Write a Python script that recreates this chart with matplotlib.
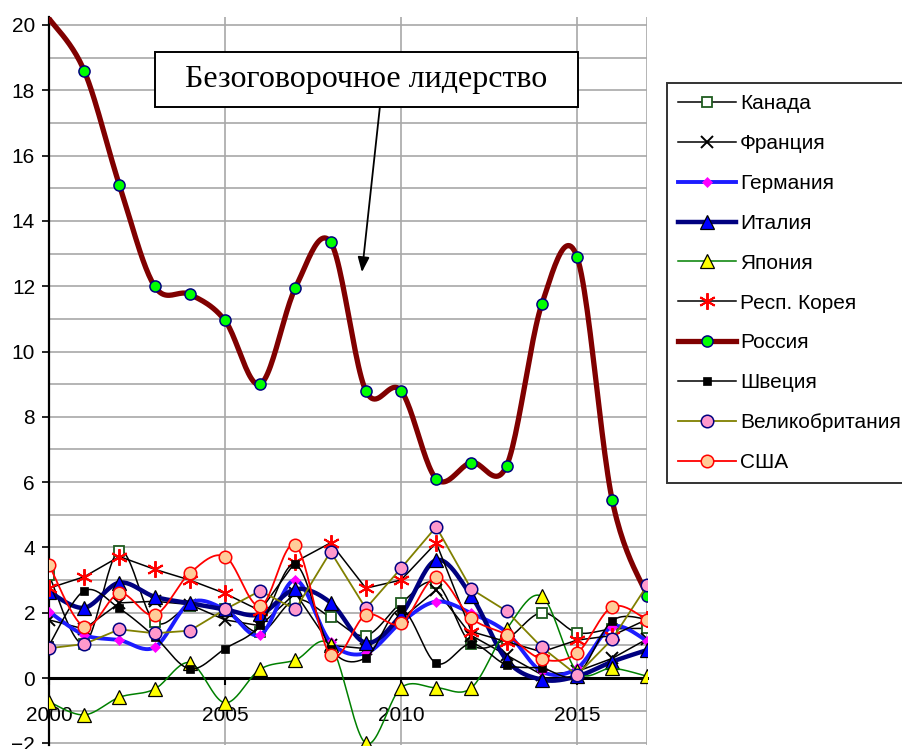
import numpy as np
import matplotlib
matplotlib.use("Agg")
import matplotlib.pyplot as plt
from matplotlib.patches import Rectangle

years = list(range(2000, 2018))

canada  = [3.15, 1.05, 3.90, 1.72, 2.20, 2.10, 1.40, 2.40, 1.86, 1.30, 2.29, 2.90, 1.03, 1.20, 2.00, 1.39, 1.50, 1.52]
france  = [1.78, 1.50, 2.30, 2.35, 2.25, 1.78, 1.60, 2.60, 1.00, 0.90, 1.80, 2.70, 1.30, 0.70, 0.10, 0.20, 0.60, 1.20]
germany = [2.03, 1.32, 1.16, 0.94, 2.30, 2.10, 1.32, 3.00, 1.10, 0.76, 1.70, 2.34, 1.98, 1.40, 0.20, 0.30, 1.57, 1.13]
italy   = [2.64, 2.15, 2.92, 2.49, 2.29, 2.10, 1.95, 2.72, 2.31, 1.08, 1.93, 3.61, 2.51, 0.55, -0.05, 0.05, 0.50, 0.86]
japan   = [-0.73, -1.13, -0.59, -0.34, 0.47, -0.76, 0.27, 0.55, 1.00, -2.00, -0.30, -0.30, -0.30, 1.50, 2.50, 0.20, 0.30, 0.05]
korea   = [2.75, 3.10, 3.72, 3.33, 3.00, 2.59, 2.06, 3.56, 4.14, 2.75, 3.00, 4.14, 1.42, 1.11, 0.80, 1.16, 1.30, 1.80]
russia  = [20.2, 18.6, 15.1, 12.0, 11.75, 10.95, 9.0, 11.95, 13.35, 8.8, 8.8, 6.1, 6.6, 6.5, 11.45, 12.9, 5.45, 2.5]
sweden  = [1.00, 2.67, 2.13, 1.27, 0.28, 0.90, 1.62, 3.48, 0.90, 0.62, 2.10, 0.45, 1.05, 0.40, 0.30, 0.10, 1.75, 1.80]
uk      = [0.91, 1.04, 1.49, 1.37, 1.45, 2.10, 2.67, 2.10, 3.87, 2.13, 3.36, 4.63, 2.72, 2.05, 0.94, 0.09, 1.19, 2.85]
usa     = [3.46, 1.57, 2.59, 1.93, 3.21, 3.72, 2.20, 4.07, 0.70, 1.93, 1.67, 3.08, 1.83, 1.32, 0.58, 0.76, 2.18, 1.78]

labels = ["Канада", "Франция", "Германия", "Италия", "Япония",
          "Респ. Корея", "Россия", "Швеция", "Великобритания", "США"]
annotation_text = "Безоговорочное лидерство"

plt.rcParams['font.family'] = ['Liberation Sans', 'DejaVu Sans']


def smooth(xs, ys, n=24):
    P = np.column_stack([np.asarray(xs, float), np.asarray(ys, float)])
    m = len(P)
    out = []
    t = np.linspace(0, 1, n, endpoint=False)[:, None]
    for i in range(m - 1):
        p0 = P[i - 1] if i > 0 else P[i]
        p1 = P[i]
        p2 = P[i + 1]
        p3 = P[i + 2] if i + 2 < m else P[i + 1]
        c1 = p1 + (p2 - p0) / 6.0
        c2 = p2 - (p3 - p1) / 6.0
        seg = ((1 - t) ** 3) * p1 + 3 * ((1 - t) ** 2) * t * c1 + 3 * (1 - t) * t ** 2 * c2 + t ** 3 * p2
        out.append(seg)
    out.append(P[-1:])
    arr = np.vstack(out)
    return arr[:, 0], arr[:, 1], [i * n for i in range(m)]


W, H = 903, 749
fig = plt.figure(figsize=(W / 100, H / 100), dpi=100)
ypx = 32.65
ylo, yhi = -2.05, 20.25
bottom_px = 678 + (-ylo) * ypx
top_px = 678 - yhi * ypx
ax = fig.add_axes([49 / W, (H - bottom_px) / H, (647.4 - 49) / W, (bottom_px - top_px) / H])
ax.set_xlim(2000, 2017)
ax.set_ylim(ylo, yhi)

grid_c = '#a8a8a8'
for v in range(-2, 21):
    ax.axhline(v, color=grid_c, lw=1.2, zorder=0.5)
for v in [2005, 2010, 2015, 2017]:
    ax.axvline(v, color=grid_c, lw=1.2, zorder=0.5)

ax.spines['top'].set_visible(False)
ax.spines['right'].set_visible(False)
ax.spines['bottom'].set_position(('data', 0))
ax.spines['bottom'].set_linewidth(2.2)
ax.spines['bottom'].set_zorder(1)
ax.spines['left'].set_linewidth(1.6)

ax.set_xticks([2000, 2005, 2010, 2015])
ax.set_xticklabels(['2000', '2005', '2010', '2015'])
ax.set_yticks(range(-2, 21, 2))
ax.tick_params(axis='x', direction='out', length=5, width=1.5, pad=15, labelsize=15)
ax.tick_params(axis='y', direction='out', length=5, width=1.2, pad=5, labelsize=15)

specs = [
    (canada,  dict(color='black', lw=1.1, marker='s', ms=7.5, mfc='white', mec='#1f5c1f', mew=1.3), True),
    (france,  dict(color='black', lw=1.1, marker='x', ms=9, mec='black', mew=1.4), False),
    (germany, dict(color='#1c1cff', lw=2.8, marker='D', ms=5.5, mfc='#ff00ff', mec='#ff00ff', mew=0.5), True),
    (italy,   dict(color='#000080', lw=3.2, marker='^', ms=9.5, mfc='#0000ff', mec='black', mew=0.9), True),
    (japan,   dict(color='#008000', lw=1.1, marker='^', ms=9.5, mfc='#ffff00', mec='black', mew=0.9), True),
    (korea,   dict(color='black', lw=1.1, marker=(6, 2, 0), ms=12, mec='#ff0000', mew=1.4), False),
    (russia,  dict(color='#800000', lw=3.8, marker='o', ms=8, mfc='#00ff00', mec='#000080', mew=1.1), True),
    (sweden,  dict(color='black', lw=1.1, marker='s', ms=5.5, mfc='black', mec='black', mew=0.5), True),
    (uk,      dict(color='#808000', lw=1.3, marker='o', ms=9, mfc='#ff99cc', mec='#000080', mew=1.1), False),
    (usa,     dict(color='#ff0000', lw=1.3, marker='o', ms=9, mfc='#ffcc99', mec='#ff0000', mew=1.1), True),
]

handles = []
for (vals, st, sm), lab in zip(specs, labels):
    if sm:
        X, Y, idx = smooth(years, vals)
    else:
        X, Y, idx = np.array(years, float), np.array(vals, float), list(range(len(vals)))
    if lab == "Россия":
        idx = idx[1:]
    h, = ax.plot(X, Y, markevery=idx, label=lab, zorder=3, **st)
    handles.append(h)

# annotation box and arrow
ax.add_patch(Rectangle(((155 - 49) / 598.4, (bottom_px - 107) / (bottom_px - top_px)),
                       (578 - 155) / 598.4, 55 / (bottom_px - top_px),
                       transform=ax.transAxes, facecolor='white', edgecolor='black',
                       lw=1.4, zorder=5))
ax.text((366 - 49) / 598.4, (bottom_px - 80) / (bottom_px - top_px), annotation_text,
        transform=ax.transAxes, ha='center', va='center',
        family=['Liberation Serif', 'DejaVu Serif'], fontsize=23, zorder=6)
ax.annotate('', xy=(2008.89, 12.43), xytext=(2009.40, 17.49),
            arrowprops=dict(arrowstyle='-|>,head_length=0.9,head_width=0.35',
                            color='black', lw=1.3, shrinkA=0, shrinkB=0), zorder=6)

leg = fig.legend(handles=handles, loc='upper left',
                 bbox_to_anchor=(667 / W, 1 - 83 / H), bbox_transform=fig.transFigure,
                 fontsize=15, frameon=True, fancybox=False, borderaxespad=0,
                 handlelength=2.75, handletextpad=0.2, labelspacing=1.0,
                 borderpad=0.55)
leg.get_frame().set_edgecolor('black')
leg.get_frame().set_linewidth(1.4)

fig.savefig('out.png', dpi=100)
